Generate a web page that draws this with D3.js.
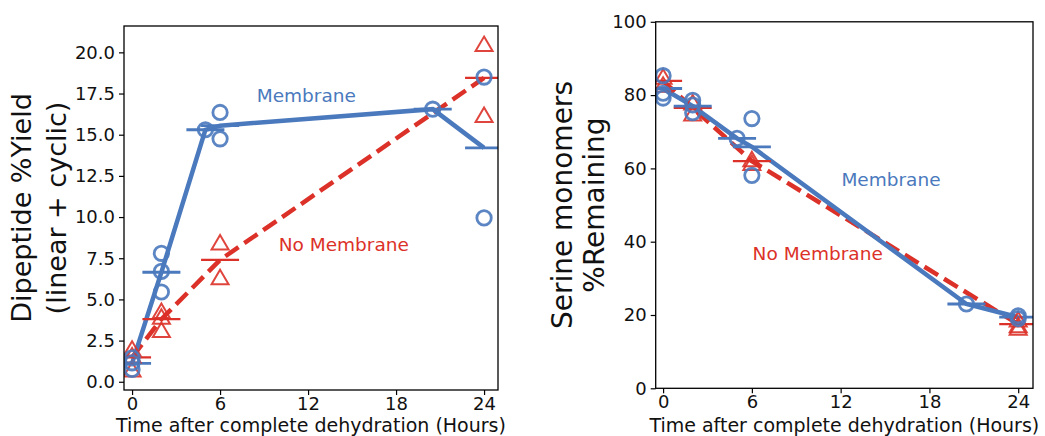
<!DOCTYPE html>
<html>
<head>
<meta charset="utf-8">
<script src="https://cdn.jsdelivr.net/npm/d3@7"></script>
<style>
  body { margin: 0; background: #fff; }
  svg text { font-family: "DejaVu Sans", sans-serif; fill: #111; }
</style>
</head>
<body>
<svg id="chart"></svg>
<script>
var width = 1045, height = 436;
var blue = "#4a79bd", red = "#dc3128";

var xTicks = [0, 6, 12, 18, 24];

// left panel: dipeptide yield
var dipMemT = [0, 0, 0, 2, 2, 2, 5, 6, 6, 20.5, 24, 24];
var dipMemV = [1.45, 1.15, 0.75, 7.8, 6.7, 5.45, 15.3, 16.35, 14.75, 16.55, 18.5, 9.95];
var dipMemMeanT = [0, 2, 5, 6, 20.5, 24];
var dipMemMeanV = [1.12, 6.65, 15.3, 15.55, 16.55, 14.2];
var dipNoT = [0, 0, 0, 2, 2, 2, 6, 6, 24, 24];
var dipNoV = [2.0, 1.6, 0.75, 4.3, 3.15, 3.95, 8.45, 6.35, 20.5, 16.2];
var dipNoMeanT = [0, 2, 6, 24];
var dipNoMeanV = [1.48, 3.8, 7.4, 18.45];
var dipYTicks = [0, 2.5, 5, 7.5, 10, 12.5, 15, 17.5, 20];

// right panel: serine remaining
var serMemT = [0, 0, 0, 2, 2, 2, 5, 6, 6, 20.5, 24, 24];
var serMemV = [85.3, 80.5, 79.2, 78.6, 77.3, 75.2, 68.2, 73.6, 58.1, 23.0, 19.8, 19.0];
var serMemMeanT = [0, 2, 5, 6, 20.5, 24];
var serMemMeanV = [81.8, 77.0, 68.2, 65.9, 23.0, 19.4];
var serNoT = [0, 0, 2, 2, 6, 6, 24, 24, 24];
var serNoV = [85.0, 82.8, 78.0, 75.0, 62.5, 61.5, 18.8, 17.2, 16.5];
var serNoMeanT = [0, 2, 6, 24];
var serNoMeanV = [83.9, 76.5, 62.0, 17.5];
var serYTicks = [0, 20, 40, 60, 80, 100];

var svg = d3.select("#chart")
    .attr("width", width)
    .attr("height", height);

function zip(t, v) {
    return t.map(function (d, i) { return {t: d, v: v[i]}; });
}

function drawPanel(p) {
    var x = d3.scaleLinear().domain(p.xDomain).range([p.left, p.right]);
    var y = d3.scaleLinear().domain(p.yDomain).range([p.bottom, p.top]);
    var g = svg.append("g");

    g.append("clipPath").attr("id", p.id)
        .append("rect")
        .attr("x", p.left).attr("y", p.top)
        .attr("width", p.right - p.left).attr("height", p.bottom - p.top);

    var plot = g.append("g").attr("clip-path", "url(#" + p.id + ")");
    var line = d3.line().x(function (d) { return x(d.t); }).y(function (d) { return y(d.v); });

    // red dashed mean line
    plot.append("path")
        .datum(zip(p.noMeanT, p.noMeanV))
        .attr("d", line)
        .attr("fill", "none").attr("stroke", red)
        .attr("stroke-width", 4.5).attr("stroke-dasharray", "16 7");

    // blue solid mean line
    plot.append("path")
        .datum(zip(p.memMeanT, p.memMeanV))
        .attr("d", line)
        .attr("fill", "none").attr("stroke", blue)
        .attr("stroke-width", 4.5);

    // mean markers (horizontal bars)
    plot.selectAll(".noMean").data(zip(p.noMeanT, p.noMeanV)).enter()
        .append("line")
        .attr("x1", function (d) { return x(d.t) - 19; })
        .attr("x2", function (d) { return x(d.t) + 19; })
        .attr("y1", function (d) { return y(d.v); })
        .attr("y2", function (d) { return y(d.v); })
        .attr("stroke", red).attr("stroke-width", 2.2);

    plot.selectAll(".memMean").data(zip(p.memMeanT, p.memMeanV)).enter()
        .append("line")
        .attr("x1", function (d) { return x(d.t) - 19; })
        .attr("x2", function (d) { return x(d.t) + 19; })
        .attr("y1", function (d) { return y(d.v); })
        .attr("y2", function (d) { return y(d.v); })
        .attr("stroke", blue).attr("stroke-width", 2.8);

    // triangles for no membrane replicates
    var tri = "M0,-7.5 L8.5,7 L-8.5,7 Z";
    plot.selectAll(".tri").data(zip(p.noT, p.noV)).enter()
        .append("path")
        .attr("d", tri)
        .attr("transform", function (d) { return "translate(" + x(d.t) + "," + y(d.v) + ")"; })
        .attr("fill", "none").attr("stroke", red).attr("stroke-width", 2)
        .attr("stroke-opacity", 0.9);

    // circles for membrane replicates
    plot.selectAll(".circ").data(zip(p.memT, p.memV)).enter()
        .append("circle")
        .attr("cx", function (d) { return x(d.t); })
        .attr("cy", function (d) { return y(d.v); })
        .attr("r", 7.2)
        .attr("fill", "none").attr("stroke", blue).attr("stroke-width", 2.8)
        .attr("stroke-opacity", 0.9);

    // frame
    g.append("rect")
        .attr("x", p.left).attr("y", p.top)
        .attr("width", p.right - p.left).attr("height", p.bottom - p.top)
        .attr("fill", "none").attr("stroke", "#000").attr("stroke-width", 1.3);

    var xAxis = g.append("g")
        .attr("transform", "translate(0," + p.bottom + ")")
        .call(d3.axisBottom(x).tickValues(xTicks).tickSize(5).tickPadding(2).tickSizeOuter(0));
    var yAxis = g.append("g")
        .attr("transform", "translate(" + p.left + ",0)")
        .call(d3.axisLeft(y).tickValues(p.yTicks).tickFormat(p.yFormat).tickSize(5).tickPadding(4).tickSizeOuter(0));
    [xAxis, yAxis].forEach(function (a) {
        a.select(".domain").remove();
        a.selectAll("line").attr("stroke", "#000").attr("stroke-width", 1.2);
        a.selectAll("text").attr("font-size", 18).attr("font-family", "DejaVu Sans").attr("fill", "#111");
    });

    g.append("text")
        .attr("x", (p.left + p.right) / 2).attr("y", 431.5)
        .attr("text-anchor", "middle").attr("font-size", 19)
        .text("Time after complete dehydration (Hours)");

    p.yLabel.forEach(function (s, i) {
        var lx = p.yLabelX[i], ly = (p.top + p.bottom) / 2;
        g.append("text")
            .attr("transform", "translate(" + lx + "," + ly + ") rotate(-90)")
            .attr("text-anchor", "middle").attr("dy", "0.35em")
            .attr("font-size", p.yLabelSize)
            .text(s);
    });

    g.append("text")
        .attr("x", x(p.memLabel[0])).attr("y", y(p.memLabel[1]))
        .attr("font-size", 18.5).style("fill", blue)
        .text("Membrane");
    g.append("text")
        .attr("x", x(p.noLabel[0])).attr("y", y(p.noLabel[1]))
        .attr("font-size", 18.5).style("fill", red)
        .text("No Membrane");
}

drawPanel({
    id: "clipL", left: 124, right: 498, top: 26, bottom: 390,
    xDomain: [-0.55, 24.95], yDomain: [-0.5, 21.6],
    yTicks: dipYTicks, yFormat: d3.format(".1f"),
    memT: dipMemT, memV: dipMemV, memMeanT: dipMemMeanT, memMeanV: dipMemMeanV,
    noT: dipNoT, noV: dipNoV, noMeanT: dipNoMeanT, noMeanV: dipNoMeanV,
    yLabel: ["Dipeptide %Yield", "(linear + cyclic)"], yLabelX: [22, 57], yLabelSize: 27,
    memLabel: [8.5, 17.0], noLabel: [10, 7.95]
});

drawPanel({
    id: "clipR", left: 655.7, right: 1033, top: 21.8, bottom: 388.3,
    xDomain: [-0.5, 25], yDomain: [0, 100],
    yTicks: serYTicks, yFormat: d3.format("d"),
    memT: serMemT, memV: serMemV, memMeanT: serMemMeanT, memMeanV: serMemMeanV,
    noT: serNoT, noV: serNoV, noMeanT: serNoMeanT, noMeanV: serNoMeanV,
    yLabel: ["Serine monomers", "%Remaining"], yLabelX: [562, 594], yLabelSize: 28,
    memLabel: [12.05, 55.2], noLabel: [6.05, 35.0]
});
</script>
</body>
</html>
